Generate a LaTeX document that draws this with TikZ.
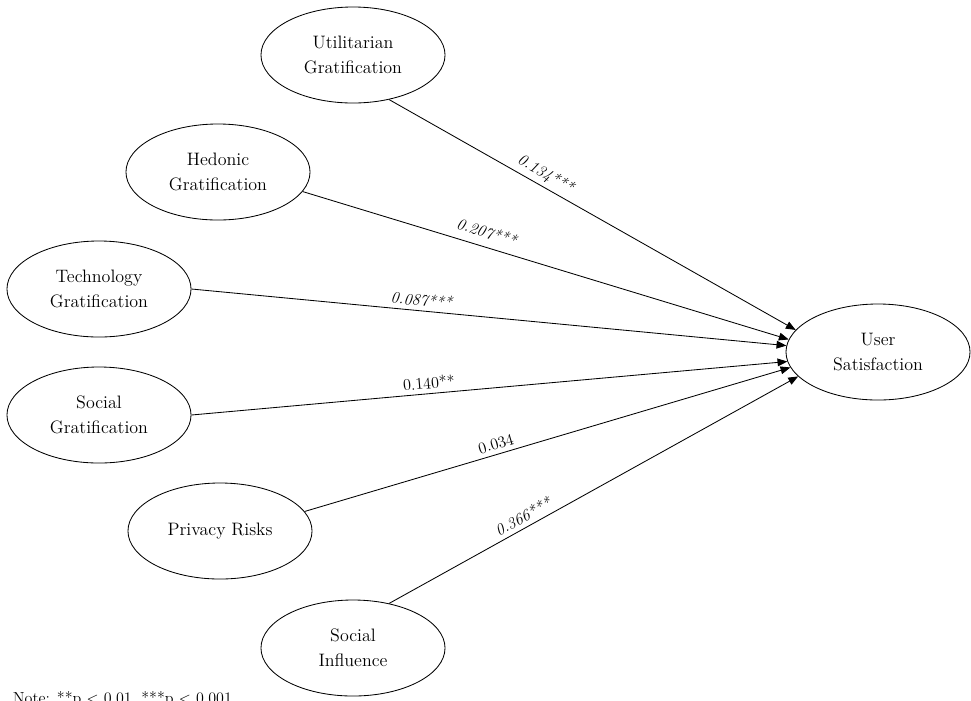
\documentclass[tikz,border=0pt]{standalone}
\usepackage{tikz}
\usetikzlibrary{shapes,arrows.meta,positioning}

\begin{document}
\begin{tikzpicture}[x=0.025cm, y=-0.025cm,
    construct/.style={draw, ellipse, line width=0.6pt, minimum width=4.6cm, minimum height=2.4cm, align=center, font=\fontsize{12.8}{17.8}\selectfont},
    effect/.style={-{Triangle[length=7pt, width=5.5pt]}, line width=0.6pt},
    coef/.style={sloped, above=1pt, inner sep=2pt, font=\fontsize{11.5}{13}\selectfont\itshape},
    coefup/.style={coef, font=\fontsize{11.5}{13}\selectfont\upshape}]
    \useasboundingbox (0,0) rectangle (971,700);

    \node[construct] (util) at (353,55) {Utilitarian\\Gratification};
    \node[construct] (hedonic) at (218,172) {Hedonic\\Gratification};
    \node[construct] (tech) at (99,289) {Technology\\Gratification};
    \node[construct] (socgrat) at (99,415) {Social\\Gratification};
    \node[construct] (privacy) at (220,531) {Privacy Risks};
    \node[construct] (socinf) at (353,648) {Social\\Influence};
    \node[construct] (satis) at (878,352) {User\\Satisfaction};

    \draw[effect] (util.-51) -- node[coef, pos=0.37] {0.134***} (satis.165);
    \draw[effect] (hedonic.-13) -- node[coef, pos=0.37, above=4pt] {0.207***} (satis.172);
    \draw[effect] (tech.0) -- node[coef, pos=0.385] {0.087***} (satis.176);
    \draw[effect] (socgrat.0) -- node[coefup, pos=0.40] {0.140**} (satis.186);
    \draw[effect] (privacy.13) -- node[coefup, pos=0.40] {0.034} (satis.190);
    \draw[effect] (socinf.51) -- node[coef, pos=0.34] {0.366***} (satis.197);

    \node[anchor=base west, font=\fontsize{11.4}{13}\selectfont] (note) at (8,703) {Note: **p $<$ 0.01, ***p $<$ 0.001};
\end{tikzpicture}
\end{document}
